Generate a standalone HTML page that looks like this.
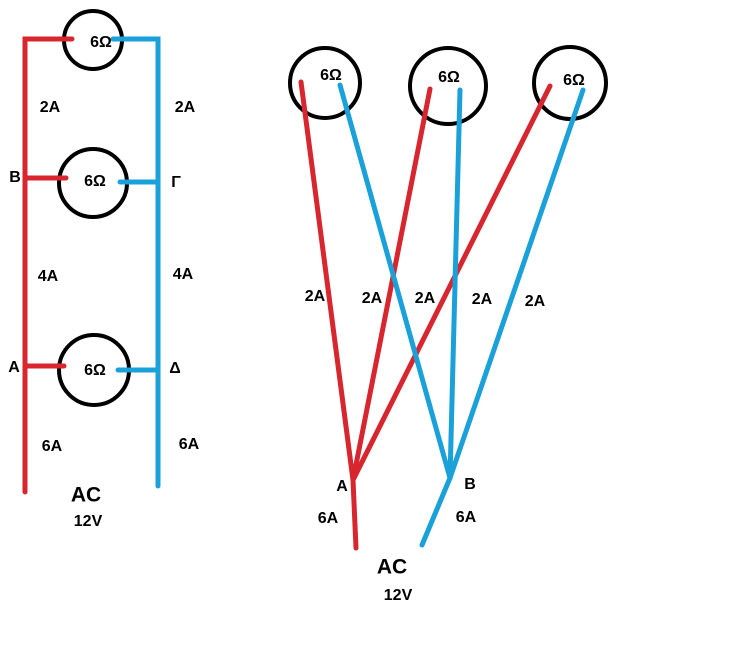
<!DOCTYPE html>
<html><head><style>body{margin:0;background:#fff}svg{display:block}text{font-family:"Liberation Sans",sans-serif;font-weight:bold;fill:#000;font-size:16px;text-anchor:middle;dominant-baseline:middle}</style></head><body>
<svg width="743" height="645" viewBox="0 0 743 645">
<g fill="none" stroke="#000" stroke-width="4">
<circle cx="93" cy="40" r="29"/><circle cx="93" cy="183" r="34"/><circle cx="94" cy="370" r="35"/>
<circle cx="325" cy="83" r="35"/><circle cx="448" cy="86" r="38"/><circle cx="570" cy="83" r="36"/>
</g>
<g stroke="#d8262f" stroke-width="5" fill="none" stroke-linecap="round">
<polyline points="72,39 25,39 25,492"/>
<line x1="25" y1="178" x2="66" y2="178"/><line x1="25" y1="366" x2="64" y2="366"/>
<line x1="301" y1="82" x2="353" y2="480"/><line x1="430" y1="89" x2="353" y2="480"/><line x1="550" y1="86" x2="353" y2="480"/><line x1="353" y1="480" x2="356" y2="548"/>
</g>
<g stroke="#1ba1d9" stroke-width="5" fill="none" stroke-linecap="round">
<polyline points="113,39 158,39 158,486"/>
<line x1="120" y1="182" x2="158" y2="182"/><line x1="118" y1="370" x2="158" y2="370"/>
<line x1="340" y1="85" x2="450" y2="478"/><line x1="460" y1="90" x2="450" y2="478"/><line x1="583" y1="90" x2="450" y2="478"/><line x1="450" y1="478" x2="422" y2="545"/>
</g>
<text x="101" y="43">6Ω</text><text x="95" y="182">6Ω</text><text x="95" y="371">6Ω</text>
<text x="331" y="76">6Ω</text><text x="449" y="78">6Ω</text><text x="574" y="81">6Ω</text>
<text x="50" y="108">2A</text><text x="185" y="108">2A</text>
<text x="15" y="178">B</text><text x="176" y="183">Γ</text>
<text x="48" y="277">4A</text><text x="183" y="275">4A</text>
<text x="14" y="368">A</text><text x="175" y="369">Δ</text>
<text x="52" y="447">6A</text><text x="189" y="445">6A</text>
<text x="86" y="496" style="font-size:21px">AC</text><text x="88" y="522">12V</text>
<text x="315" y="297">2A</text><text x="372" y="299">2A</text><text x="425" y="299">2A</text><text x="482" y="300">2A</text><text x="535" y="302">2A</text>
<text x="342" y="487">A</text><text x="470" y="485">B</text>
<text x="328" y="519">6A</text><text x="466" y="518">6A</text>
<text x="392" y="568" style="font-size:21px">AC</text><text x="398" y="596">12V</text>
</svg>
</body></html>
